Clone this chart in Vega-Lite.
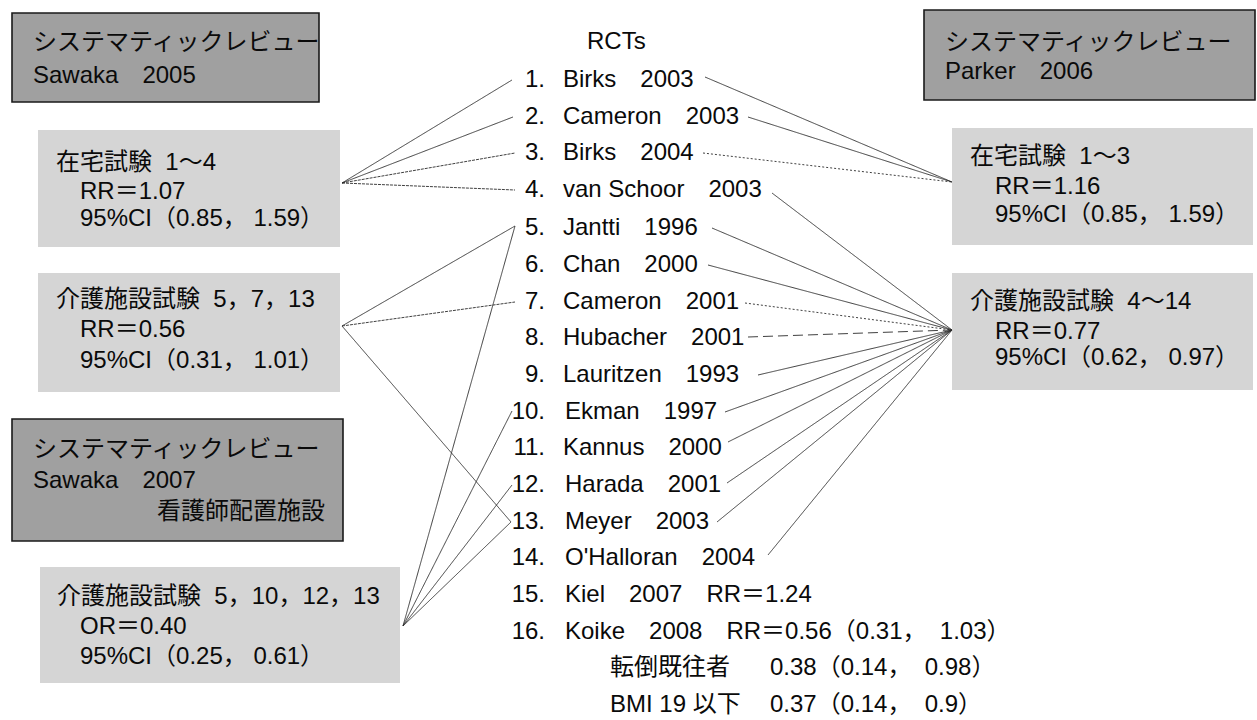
{
  "$schema": "https://vega.github.io/schema/vega-lite/v6.json",
  "width": 1257,
  "height": 720,
  "autosize": {"type": "fit", "contains": "padding"},
  "padding": 0,
  "background": "white",
  "config": {"view": {"stroke": null}},
  "datasets": {
    "boxes": [
      {"x": 12, "x2": 319, "y": 13, "y2": 102, "kind": "dark"},
      {"x": 12, "x2": 343, "y": 419, "y2": 541, "kind": "dark"},
      {"x": 924, "x2": 1255, "y": 10, "y2": 100, "kind": "dark"},
      {"x": 38, "x2": 340, "y": 130, "y2": 247, "kind": "light"},
      {"x": 38, "x2": 340, "y": 273, "y2": 392, "kind": "light"},
      {"x": 40, "x2": 400, "y": 567, "y2": 683, "kind": "light"},
      {"x": 952, "x2": 1253, "y": 128, "y2": 245, "kind": "light"},
      {"x": 952, "x2": 1253, "y": 273, "y2": 390, "kind": "light"}
    ],
    "links": [
      {"x": 342, "y": 183, "x2": 512, "y2": 80, "style": "solid"},
      {"x": 342, "y": 183, "x2": 513, "y2": 117, "style": "solid"},
      {"x": 342, "y": 183, "x2": 515, "y2": 153, "style": "fine"},
      {"x": 342, "y": 183, "x2": 515, "y2": 190, "style": "fine"},
      {"x": 342, "y": 326, "x2": 515, "y2": 226, "style": "solid"},
      {"x": 342, "y": 326, "x2": 515, "y2": 302, "style": "fine"},
      {"x": 342, "y": 326, "x2": 511, "y2": 522, "style": "solid"},
      {"x": 403, "y": 626, "x2": 515, "y2": 226, "style": "solid"},
      {"x": 403, "y": 626, "x2": 512, "y2": 411, "style": "solid"},
      {"x": 403, "y": 626, "x2": 512, "y2": 485, "style": "solid"},
      {"x": 403, "y": 626, "x2": 511, "y2": 522, "style": "solid"},
      {"x": 705, "y": 77, "x2": 952, "y2": 182, "style": "solid"},
      {"x": 748, "y": 117, "x2": 952, "y2": 182, "style": "solid"},
      {"x": 703, "y": 153, "x2": 952, "y2": 182, "style": "dotted"},
      {"x": 772, "y": 193, "x2": 952, "y2": 330, "style": "solid"},
      {"x": 712, "y": 228, "x2": 952, "y2": 330, "style": "solid"},
      {"x": 708, "y": 265, "x2": 952, "y2": 330, "style": "solid"},
      {"x": 745, "y": 303, "x2": 952, "y2": 330, "style": "dotted"},
      {"x": 748, "y": 337, "x2": 952, "y2": 330, "style": "dashed"},
      {"x": 758, "y": 375, "x2": 952, "y2": 330, "style": "solid"},
      {"x": 725, "y": 412, "x2": 952, "y2": 330, "style": "solid"},
      {"x": 728, "y": 442, "x2": 952, "y2": 330, "style": "solid"},
      {"x": 727, "y": 483, "x2": 952, "y2": 330, "style": "solid"},
      {"x": 717, "y": 522, "x2": 952, "y2": 330, "style": "solid"},
      {"x": 768, "y": 555, "x2": 952, "y2": 330, "style": "solid"}
    ],
    "labels": [
      {"x": 33, "y": 43, "t": "システマティックレビュー", "anchor": "start"},
      {"x": 33, "y": 76, "t": "Sawaka　2005", "anchor": "start"},
      {"x": 56, "y": 163, "t": "在宅試験 \u00a01～4", "anchor": "start"},
      {"x": 80, "y": 192, "t": "RR＝1.07", "anchor": "start"},
      {"x": 80, "y": 219, "t": "95%CI（0.85， 1.59）", "anchor": "start"},
      {"x": 56, "y": 300, "t": "介護施設試験 \u00a05，7，13", "anchor": "start"},
      {"x": 80, "y": 330, "t": "RR＝0.56", "anchor": "start"},
      {"x": 80, "y": 361, "t": "95%CI（0.31， 1.01）", "anchor": "start"},
      {"x": 33, "y": 450, "t": "システマティックレビュー", "anchor": "start"},
      {"x": 33, "y": 481, "t": "Sawaka　2007", "anchor": "start"},
      {"x": 325, "y": 512, "t": "看護師配置施設", "anchor": "end"},
      {"x": 57, "y": 597, "t": "介護施設試験 \u00a05，10，12，13", "anchor": "start"},
      {"x": 80, "y": 627, "t": "OR＝0.40", "anchor": "start"},
      {"x": 80, "y": 657, "t": "95%CI（0.25， 0.61）", "anchor": "start"},
      {"x": 945, "y": 43, "t": "システマティックレビュー", "anchor": "start"},
      {"x": 945, "y": 72, "t": "Parker　2006", "anchor": "start"},
      {"x": 970, "y": 157, "t": "在宅試験 \u00a01～3", "anchor": "start"},
      {"x": 995, "y": 187, "t": "RR＝1.16", "anchor": "start"},
      {"x": 995, "y": 215, "t": "95%CI（0.85， 1.59）", "anchor": "start"},
      {"x": 970, "y": 302, "t": "介護施設試験 \u00a04～14", "anchor": "start"},
      {"x": 995, "y": 332, "t": "RR＝0.77", "anchor": "start"},
      {"x": 995, "y": 358, "t": "95%CI（0.62， 0.97）", "anchor": "start"},
      {"x": 587, "y": 42, "t": "RCTs", "anchor": "start"},
      {"x": 545, "y": 80, "t": "1.", "anchor": "end"},
      {"x": 545, "y": 117, "t": "2.", "anchor": "end"},
      {"x": 545, "y": 153, "t": "3.", "anchor": "end"},
      {"x": 545, "y": 190, "t": "4.", "anchor": "end"},
      {"x": 545, "y": 228, "t": "5.", "anchor": "end"},
      {"x": 545, "y": 265, "t": "6.", "anchor": "end"},
      {"x": 545, "y": 302, "t": "7.", "anchor": "end"},
      {"x": 545, "y": 338, "t": "8.", "anchor": "end"},
      {"x": 545, "y": 375, "t": "9.", "anchor": "end"},
      {"x": 545, "y": 412, "t": "10.", "anchor": "end"},
      {"x": 545, "y": 448, "t": "11.", "anchor": "end"},
      {"x": 545, "y": 485, "t": "12.", "anchor": "end"},
      {"x": 545, "y": 522, "t": "13.", "anchor": "end"},
      {"x": 545, "y": 558, "t": "14.", "anchor": "end"},
      {"x": 545, "y": 595, "t": "15.", "anchor": "end"},
      {"x": 545, "y": 632, "t": "16.", "anchor": "end"},
      {"x": 563, "y": 80, "t": "Birks　2003", "anchor": "start"},
      {"x": 563, "y": 117, "t": "Cameron　2003", "anchor": "start"},
      {"x": 563, "y": 153, "t": "Birks　2004", "anchor": "start"},
      {"x": 563, "y": 190, "t": "van Schoor　2003", "anchor": "start"},
      {"x": 563, "y": 228, "t": "Jantti　1996", "anchor": "start"},
      {"x": 563, "y": 265, "t": "Chan　2000", "anchor": "start"},
      {"x": 563, "y": 302, "t": "Cameron　2001", "anchor": "start"},
      {"x": 563, "y": 338, "t": "Hubacher　2001", "anchor": "start"},
      {"x": 563, "y": 375, "t": "Lauritzen　1993", "anchor": "start"},
      {"x": 565, "y": 412, "t": "Ekman　1997", "anchor": "start"},
      {"x": 563, "y": 448, "t": "Kannus　2000", "anchor": "start"},
      {"x": 565, "y": 485, "t": "Harada　2001", "anchor": "start"},
      {"x": 565, "y": 522, "t": "Meyer　2003", "anchor": "start"},
      {"x": 565, "y": 558, "t": "O'Halloran　2004", "anchor": "start"},
      {"x": 565, "y": 595, "t": "Kiel　2007　RR＝1.24", "anchor": "start"},
      {"x": 565, "y": 632, "t": "Koike　2008　RR＝0.56（0.31， \u00a01.03）", "anchor": "start"},
      {"x": 610, "y": 668, "t": "転倒既往者", "anchor": "start"},
      {"x": 770, "y": 668, "t": "0.38（0.14， \u00a00.98）", "anchor": "start"},
      {"x": 610, "y": 705, "t": "BMI 19 以下", "anchor": "start"},
      {"x": 770, "y": 705, "t": "0.37（0.14， \u00a00.9）", "anchor": "start"}
    ]
  },
  "encoding": {
    "x": {"field": "x", "type": "quantitative", "scale": {"domain": [0, 1257], "nice": false, "zero": false}, "axis": null},
    "y": {"field": "y", "type": "quantitative", "scale": {"domain": [0, 720], "nice": false, "zero": false, "reverse": true}, "axis": null}
  },
  "layer": [
    {
      "data": {"name": "boxes"},
      "transform": [{"filter": "datum.kind == 'light'"}],
      "mark": {"type": "rect", "fill": "#d5d5d5"},
      "encoding": {"x2": {"field": "x2"}, "y2": {"field": "y2"}}
    },
    {
      "data": {"name": "boxes"},
      "transform": [{"filter": "datum.kind == 'dark'"}],
      "mark": {"type": "rect", "fill": "#a0a0a0", "stroke": "#1a1a1a", "strokeWidth": 1.6},
      "encoding": {"x2": {"field": "x2"}, "y2": {"field": "y2"}}
    },
    {
      "data": {"name": "links"},
      "mark": {"type": "rule", "color": "#2a2a2a", "strokeWidth": 0.9},
      "encoding": {
        "x2": {"field": "x2"},
        "y2": {"field": "y2"},
        "strokeDash": {"field": "style", "type": "nominal", "scale": {"domain": ["solid", "fine", "dotted", "dashed"], "range": [[1, 0], [3, 1], [2, 2], [10, 5]]}, "legend": null}
      }
    },
    {
      "data": {"name": "labels"},
      "transform": [{"filter": "datum.anchor == 'start'"}],
      "mark": {"type": "text", "align": "left", "baseline": "middle", "font": "'Liberation Sans', 'Noto Sans CJK JP', sans-serif", "fontSize": 24, "color": "#0a0a0a"},
      "encoding": {"text": {"field": "t"}}
    },
    {
      "data": {"name": "labels"},
      "transform": [{"filter": "datum.anchor == 'end'"}],
      "mark": {"type": "text", "align": "right", "baseline": "middle", "font": "'Liberation Sans', 'Noto Sans CJK JP', sans-serif", "fontSize": 24, "color": "#0a0a0a"},
      "encoding": {"text": {"field": "t"}}
    }
  ]
}
